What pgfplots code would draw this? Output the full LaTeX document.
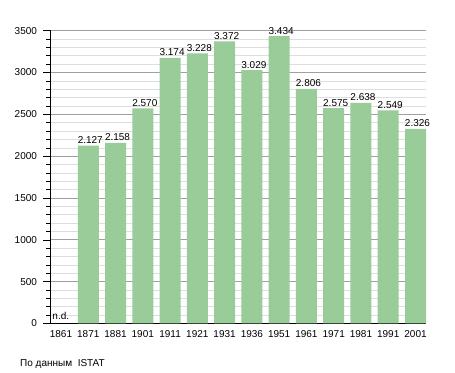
\documentclass[border=0pt]{standalone}
\usepackage{pgfplots}
\pgfplotsset{compat=1.18}
\usepackage{pgfplotstable}
\usepackage{fontspec}
\setmainfont{Liberation Sans}
\definecolor{barg}{RGB}{153,204,153}
\definecolor{majg}{RGB}{160,160,160}
\definecolor{ming}{RGB}{222,222,222}
\pgfplotstableread{
x y lab
1 2127 2.127
2 2158 2.158
3 2570 2.570
4 3174 3.174
5 3228 3.228
6 3372 3.372
7 3029 3.029
8 3434 3.434
9 2806 2.806
10 2575 2.575
11 2638 2.638
12 2549 2.549
13 2326 2.326
}\datatable
\begin{document}
\begin{tikzpicture}[font=\fontsize{10bp}{12bp}\selectfont]
\path[use as bounding box] (0,0) rectangle (455bp,373bp);
\begin{axis}[
  at={(50.5bp,49.5bp)}, anchor=south west,
  scale only axis, width=375.5bp, height=292.8bp,
  xmin=-0.385, xmax=13.385, ymin=0, ymax=3500,
  axis x line=bottom, axis y line=left,
  axis line style={-, black, line width=0.8pt},
  xtick={0,...,13},
  xticklabels={1861,1871,1881,1901,1911,1921,1931,1936,1951,1961,1971,1981,1991,2001},
  x tick style={draw=none},
  ytick={0,500,...,3500},
  minor y tick num=4,
  tick align=outside,
  major tick length=7bp, minor tick length=4bp,
  y tick style={black, line width=0.6pt},
  ymajorgrids, yminorgrids,
  major grid style={majg, line width=0.7pt},
  minor grid style={ming, line width=0.6pt},
  /pgf/number format/assume math mode=true,
  /pgf/number format/1000 sep={},
  tick label style={font=\fontsize{10bp}{12bp}\selectfont},
  xticklabel style={yshift=4bp},
  yticklabel style={xshift=-3bp},
  clip=false,
]
\addplot[ybar, bar width=0.77, bar shift=0pt, fill=barg, draw=none,
  nodes near coords, point meta=explicit symbolic,
  every node near coord/.append style={anchor=base, yshift=2bp, xshift=2bp, inner sep=0pt, font=\fontsize{10bp}{12bp}\selectfont}]
  table[x=x, y=y, meta=lab] {\datatable};
\node[anchor=base west, inner sep=0pt] at (axis cs:-0.32,0) [yshift=4bp] {n.d.};
\end{axis}
\node[anchor=base west, inner sep=0pt] at (20bp,6.5bp) {По данным\ \ ISTAT};
\end{tikzpicture}
\end{document}
